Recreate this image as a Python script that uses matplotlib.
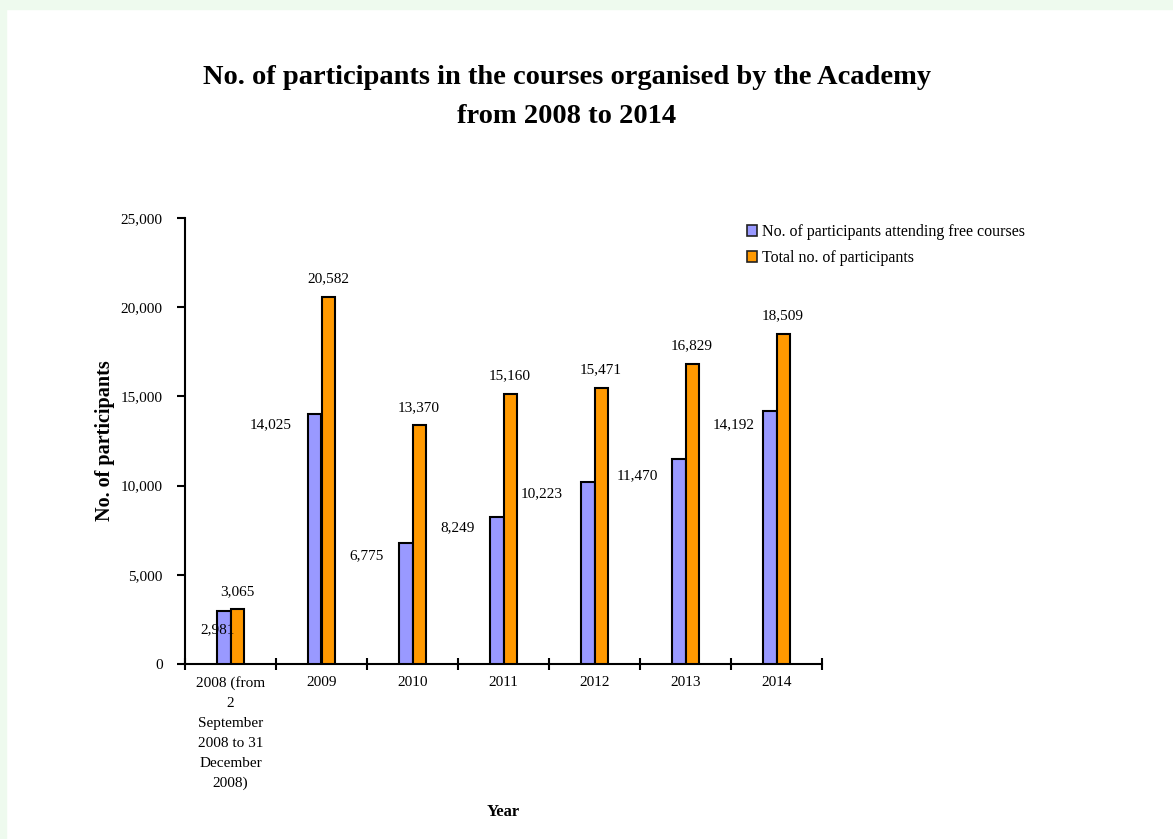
import matplotlib
matplotlib.use("Agg")
import matplotlib.pyplot as plt
from matplotlib.patches import Patch, Rectangle
import numpy as np

categories = ["2008 (from\n2\nSeptember\n2008 to 31\nDecember\n2008)",
              "2009", "2010", "2011", "2012", "2013", "2014"]
free_courses = [2981, 14025, 6775, 8249, 10223, 11470, 14192]
total = [3065, 20582, 13370, 15160, 15471, 16829, 18509]
series_names = ["No. of participants attending free courses", "Total no. of participants"]

# label offsets (pixels) for the free-course labels, style only
free_dx = [-6, -44, -39, -39, -46, -42, -36]
free_dy = [-19, -11, -13, -11, -12, -16, -14]

plt.rcParams['font.family'] = ['Liberation Serif', 'DejaVu Serif']

W, H = 1173, 839
fig = plt.figure(figsize=(W / 100, H / 100), dpi=100)
fig.patch.set_facecolor('white')
# light green frame strips
fig.add_artist(Rectangle((0, 1 - 9 / H), 1, 9 / H, transform=fig.transFigure,
                         color='#eefaee', zorder=-10))
fig.add_artist(Rectangle((0, 0), 6 / W, 1, transform=fig.transFigure,
                         color='#eefaee', zorder=-10))

ax = fig.add_axes([185 / W, 1 - 664 / H, (822 - 185) / W, (664 - 218) / H])
x = np.arange(len(categories))
bw = 0.143
blue = '#9999ff'
orange = '#ff9900'
ax.bar(x - bw / 2, free_courses, bw, color=blue, edgecolor='black', linewidth=1.5, zorder=3)
ax.bar(x + bw / 2, total, bw, color=orange, edgecolor='black', linewidth=1.5, zorder=3)

fs = 11
ax.set_xlim(-0.5, len(categories) - 0.5)
ax.set_ylim(0, 25000)
ax.set_yticks(np.arange(0, 25001, 5000))
ax.set_yticklabels([f"{v:,}" for v in range(0, 25001, 5000)], fontsize=fs)
ax.set_xticks(x)
ax.set_xticklabels(categories, fontsize=fs, linespacing=1.68)
ax.tick_params(axis='x', which='major', length=0, pad=9)
ax.set_xticks(np.arange(-0.5, len(categories)), minor=True)
ax.tick_params(axis='x', which='minor', length=8, direction='inout', width=1.5)
ax.tick_params(axis='y', length=6, direction='out', width=1.5, pad=10)
for s in ['top', 'right']:
    ax.spines[s].set_visible(False)
for s in ['left', 'bottom']:
    ax.spines[s].set_linewidth(1.5)

for i, v in enumerate(free_courses):
    ax.annotate(f"{v:,}", (x[i] - bw / 2, v), xytext=(free_dx[i], free_dy[i]),
                textcoords='offset pixels', ha='center', va='center', fontsize=fs)
for i, v in enumerate(total):
    ax.annotate(f"{v:,}", (x[i] + bw / 2, v), xytext=(0, 18),
                textcoords='offset pixels', ha='center', va='center', fontsize=fs)

ax.set_ylabel("No. of participants", fontsize=14.5, fontweight='bold')
ax.yaxis.set_label_coords(-70 / 637, 0.5)
ax.set_xlabel("Year", fontsize=12, fontweight='bold')
ax.xaxis.set_label_coords(0.5, -(812 - 664) / 446)
ax.xaxis.label.set_va('center')

fig.text(567 / W, 1 - 97 / H, "No. of participants in the courses organised by the Academy\nfrom 2008 to 2014",
         ha='center', va='center', fontsize=20.5, fontweight='bold', linespacing=1.75)

handles = [Patch(facecolor=blue, edgecolor='#222222', linewidth=1.2),
           Patch(facecolor=orange, edgecolor='#222222', linewidth=1.2)]
fig.legend(handles, series_names, loc='upper left', bbox_to_anchor=(747 / W, 1 - 224 / H),
           frameon=False, fontsize=11.5, handlelength=0.65, handleheight=0.65,
           handletextpad=0.3, borderpad=0, borderaxespad=0, labelspacing=0.65)

fig.savefig("out.png", dpi=100)
